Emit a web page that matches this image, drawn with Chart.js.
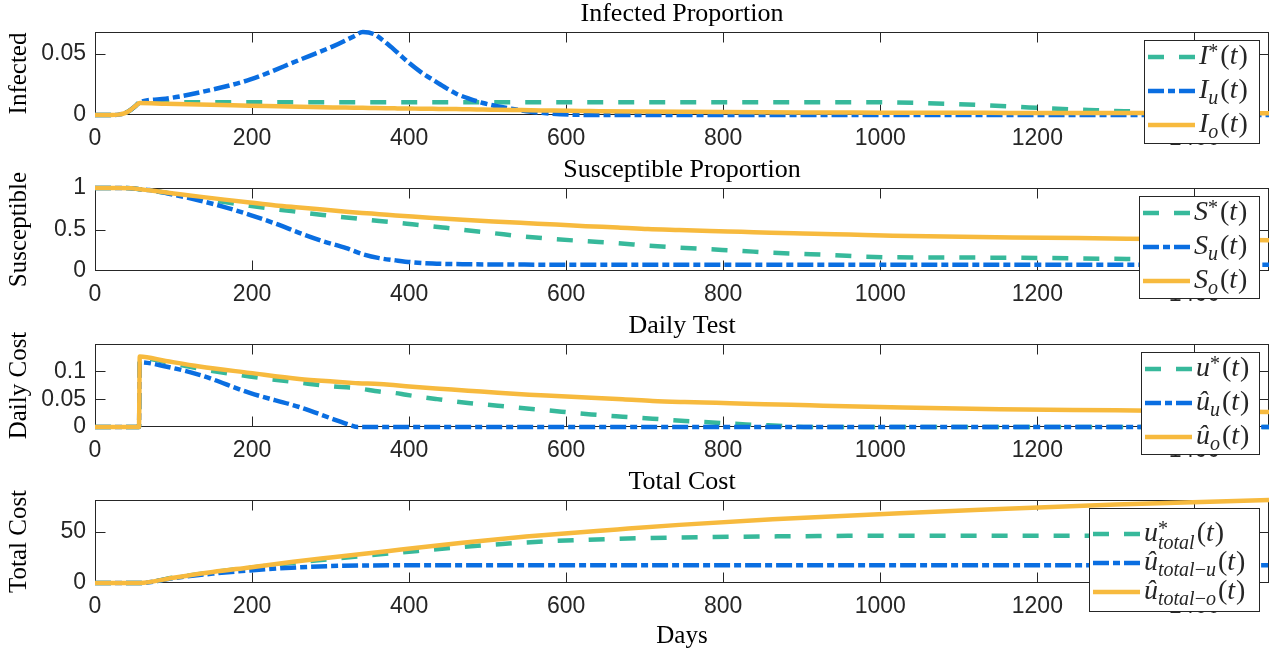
<!DOCTYPE html>
<html>
<head>
<meta charset="utf-8">
<script src="https://cdn.jsdelivr.net/npm/chart.js@4.4.1/dist/chart.umd.min.js"></script>
<style>
    body { margin: 0; background: #fff; }
    #wrap { position: relative; width: 1278px; height: 651px; }
    #wrap canvas { position: absolute; left: 0; }
</style>
</head>
<body>
<div id="wrap">
    <canvas id="infected" width="1278" height="156" style="top:0px"></canvas>
    <canvas id="susceptible" width="1278" height="156" style="top:156px"></canvas>
    <canvas id="daily" width="1278" height="156" style="top:312px"></canvas>
    <canvas id="total" width="1278" height="183" style="top:468px"></canvas>
</div>
<script>
'use strict';

// ---- data ----
var xTicks = [0, 200, 400, 600, 800, 1000, 1200, 1400];

var infDays = [0, 20, 30, 38, 45, 52, 57, 90, 133, 197, 261, 303, 330, 341, 355, 371, 385, 400, 415, 430,
    445, 460, 477, 494, 512, 532, 555, 583, 620, 642, 700, 800, 900, 1000, 1050, 1100, 1165, 1216, 1265, 1311, 1400, 1495];
var infStar = [0, 0, 0.0003, 0.0015, 0.004, 0.0076, 0.0103, 0.0103, 0.0103, 0.0103, 0.0103, 0.0103, 0.0103, 0.0103,
    0.0103, 0.0103, 0.0103, 0.0103, 0.0103, 0.0103, 0.0103, 0.0103, 0.0103, 0.0103, 0.0103, 0.0103, 0.0103, 0.0103,
    0.0103, 0.0103, 0.0103, 0.0103, 0.0103, 0.0103, 0.0098, 0.0088, 0.007, 0.0053, 0.0041, 0.0031, 0.0022, 0.0017];
var infU = [0, 0, 0.0003, 0.0015, 0.004, 0.0076, 0.0103, 0.0133, 0.0184, 0.0288, 0.0451, 0.056, 0.0643, 0.0677,
    0.066, 0.0587, 0.051, 0.0424, 0.035, 0.0288, 0.0228, 0.0174, 0.0132, 0.0098, 0.0071, 0.0049, 0.0027, 0.001,
    0.0001, 0, 0, 0, 0, 0, 0, 0, 0, 0, 0, 0, 0, 0];
var infO = [0, 0, 0.0003, 0.0015, 0.004, 0.0076, 0.0098, 0.0092, 0.0085, 0.0076, 0.0067, 0.0062, 0.006, 0.0059,
    0.0057, 0.0055, 0.0054, 0.0053, 0.0051, 0.005, 0.0049, 0.0048, 0.0046, 0.0045, 0.0043, 0.0041, 0.0039, 0.0036,
    0.0033, 0.0031, 0.0028, 0.0024, 0.0021, 0.0019, 0.0018, 0.0018, 0.0017, 0.0017, 0.0016, 0.0016, 0.0015, 0.0015];
var infTicks = [0, 0.05];

var susDays = [0, 30, 50, 57, 69, 100, 133, 165, 197, 230, 260, 290, 320, 340, 362, 383, 404, 430, 447, 468,
    507, 547, 587, 625, 666, 704, 744, 783, 823, 861, 901, 942, 980, 1016, 1169, 1314, 1400, 1495];
var susStar = [1, 1, 0.995, 0.985, 0.97, 0.93, 0.88, 0.83, 0.785, 0.745, 0.71, 0.675, 0.645, 0.625, 0.603,
    0.583, 0.562, 0.536, 0.52, 0.496, 0.456, 0.415, 0.383, 0.359, 0.335, 0.306, 0.282, 0.262, 0.242, 0.221,
    0.206, 0.19, 0.173, 0.165, 0.16, 0.145, 0.142, 0.14];
var susU = [1, 1, 0.995, 0.985, 0.975, 0.92, 0.85, 0.77, 0.677, 0.57, 0.46, 0.36, 0.275, 0.205, 0.155,
    0.128, 0.105, 0.09, 0.085, 0.082, 0.079, 0.077, 0.076, 0.0755, 0.075, 0.075, 0.075, 0.075, 0.075, 0.075,
    0.075, 0.075, 0.075, 0.075, 0.074, 0.074, 0.074, 0.074];
var susO = [1, 1, 0.995, 0.985, 0.972, 0.935, 0.896, 0.86, 0.825, 0.79, 0.765, 0.74, 0.715, 0.7, 0.685,
    0.67, 0.656, 0.64, 0.63, 0.618, 0.597, 0.578, 0.56, 0.54, 0.525, 0.505, 0.493, 0.482, 0.472, 0.462,
    0.453, 0.444, 0.433, 0.426, 0.405, 0.39, 0.38, 0.37];
var susTicks = [0, 0.5, 1];

var testDays = [0, 56, 57, 90, 133, 197, 260, 303, 324, 335, 362, 383, 396, 434, 475, 513, 553, 594, 632, 672,
    710, 751, 791, 829, 870, 910, 1028, 1152, 1300, 1495];
var testStar = [0, 0, 0.125, 0.117, 0.105, 0.091, 0.08, 0.073, 0.071, 0.0695, 0.064, 0.061, 0.058, 0.0505,
    0.0433, 0.0384, 0.033, 0.0276, 0.0227, 0.0186, 0.015, 0.0108, 0.0078, 0.0047, 0.0023, 0, 0, 0, 0, 0];
var testU = [0, 0, 0.1166, 0.109, 0.094, 0.0614, 0.036, 0.0144, 0.004, 0, 0, 0, 0, 0, 0, 0, 0, 0, 0, 0,
    0, 0, 0, 0, 0, 0, 0, 0, 0, 0];
var testO = [0, 0, 0.127, 0.119, 0.109, 0.0975, 0.0866, 0.0818, 0.0798, 0.0788, 0.0776, 0.075, 0.0735, 0.0695,
    0.0655, 0.0615, 0.058, 0.0555, 0.0525, 0.05, 0.047, 0.045, 0.0435, 0.042, 0.0405, 0.039, 0.035, 0.032, 0.03, 0.027];
var testTicks = [0, 0.05, 0.1];

var costDays = [0, 57, 100, 150, 197, 250, 300, 340, 390, 468, 549, 665, 744, 863, 1025, 1152, 1300, 1495];
var costStar = [0, 0, 5.2, 10.5, 15.0, 19.5, 23.5, 26.5, 30.0, 35.3, 39.8, 43.4, 44.7, 45.7, 46.4, 46.4, 46.4, 46.4];
var costU = [0, 0, 4.8, 9.2, 12.3, 15.0, 16.6, 17.2, 17.3, 17.3, 17.3, 17.3, 17.3, 17.3, 17.3, 17.3, 17.3, 17.3];
var costO = [0, 0, 5.2, 10.8, 15.3, 20.5, 25, 28.5, 32.8, 39.5, 45.5, 52.5, 57, 62.5, 68.5, 72.5, 77, 81.4];
var costTicks = [0, 50];

// ---- styling ----
var TEAL = '#37b99b';
var BLUE = '#0a6ee1';
var ORANGE = '#f7ba3e';
var AXIS = '#262626';
var SERIF = '"Liberation Serif", "Times New Roman", serif';
var SANS = '"Liberation Sans", Arial, sans-serif';

function pts(days, vals) {
    return days.map(function (d, i) { return {x: d, y: vals[i]}; });
}

// Matlab style box with inward tick marks on all four sides
var boxTicks = {
    id: 'boxTicks',
    beforeDatasetsDraw: function (chart) {
        var a = chart.chartArea, ctx = chart.ctx;
        var xs = chart.scales.x, ys = chart.scales.y;
        var L = Math.round(a.left) + 0.5, R = Math.round(a.right) - 0.5;
        var T = Math.round(a.top) + 0.5, B = Math.round(a.bottom) - 0.5;
        ctx.save();
        ctx.strokeStyle = AXIS;
        ctx.lineWidth = 1;
        ctx.strokeRect(L, T, R - L, B - T);
        ctx.beginPath();
        xs.ticks.forEach(function (t) {
            var px = Math.round(xs.getPixelForValue(t.value)) + 0.5;
            ctx.moveTo(px, T); ctx.lineTo(px, T + 10);
            ctx.moveTo(px, B); ctx.lineTo(px, B - 10);
        });
        ys.ticks.forEach(function (t) {
            var py = Math.min(Math.round(ys.getPixelForValue(t.value)) + 0.5, B);
            ctx.moveTo(L, py); ctx.lineTo(L + 10, py);
            ctx.moveTo(R, py); ctx.lineTo(R - 10, py);
        });
        ctx.stroke();
        ctx.restore();
    }
};

// tiny parser for labels like "u^{*}_{total}(t)"
function parseMath(src) {
    var out = [], i = 0;
    while (i < src.length) {
        var c = src[i];
        if (c === '^' || c === '_') {
            var txt;
            i++;
            if (src[i] === '{') {
                var j = src.indexOf('}', i);
                txt = src.slice(i + 1, j);
                i = j + 1;
            } else {
                txt = src[i];
                i++;
            }
            out.push({txt: txt, mode: c === '^' ? 'sup' : 'sub'});
        } else {
            out.push({txt: c, mode: 'base'});
            i++;
        }
    }
    return out;
}

function drawMath(ctx, src, x, y) {
    var toks = parseMath(src);
    var supX = 0, supEnd = 0;
    ctx.fillStyle = AXIS;
    ctx.textBaseline = 'alphabetic';
    ctx.textAlign = 'left';
    toks.forEach(function (t, k) {
        var size = t.mode === 'base' ? 28 : 20;
        var dy = 0;
        var stacked = t.mode === 'sub' && k > 0 && toks[k - 1].mode === 'sup';
        if (t.mode === 'sup') { dy = -6; supX = x; }
        if (t.mode === 'sub') { dy = stacked ? 8 : 6; }
        if (stacked) { supEnd = x; x = supX; }
        if (t.mode === 'base' && t.txt === '(' && k > 0) { x += 2; }
        for (var n = 0; n < t.txt.length; n++) {
            var c = t.txt[n];
            var italic = /[A-Za-z\u00fb]/.test(c);
            ctx.font = (italic ? 'italic ' : '') + size + 'px ' + SERIF;
            ctx.fillText(c, x, y + dy);
            x += ctx.measureText(c).width;
            if (c === 't' && t.mode === 'base') { x += 1; }
        }
        if (stacked) { x = Math.max(x, supEnd); }
    });
}

// boxed legend in the north east corner, rows drawn from the datasets
var legendBox = {
    id: 'legendBox',
    afterDraw: function (chart, args, opts) {
        var ctx = chart.ctx, a = chart.chartArea;
        var x0 = Math.round(a.right - 10 - opts.width), y0 = Math.round(a.top + 8);
        ctx.save();
        ctx.fillStyle = '#fff';
        ctx.fillRect(x0, y0, opts.width, opts.height);
        ctx.strokeStyle = AXIS;
        ctx.lineWidth = 1;
        ctx.strokeRect(x0 + 0.5, y0 + 0.5, opts.width, opts.height);
        chart.data.datasets.forEach(function (ds, i) {
            var cy = y0 + opts.rowTop + i * opts.rowGap;
            ctx.strokeStyle = ds.borderColor;
            ctx.lineWidth = ds.borderWidth;
            ctx.lineCap = 'butt';
            ctx.setLineDash(ds.borderDash || []);
            ctx.beginPath();
            ctx.moveTo(x0 + 4, cy);
            ctx.lineTo(x0 + 51, cy);
            ctx.stroke();
            ctx.setLineDash([]);
            drawMath(ctx, ds.label, x0 + 55, cy + 7);
        });
        ctx.restore();
    }
};

function makeChart(id, o) {
    var line = {
        borderWidth: 4.5, pointRadius: 0, fill: false, clip: 6,
        cubicInterpolationMode: 'monotone', borderCapStyle: 'butt',
    };
    return new Chart(document.getElementById(id), {
        type: 'line',
        data: {
            datasets: [
                Object.assign({label: o.labels[0], data: pts(o.days, o.star), borderColor: TEAL, borderDash: [16, 15], order: 3}, line),
                Object.assign({label: o.labels[1], data: pts(o.days, o.u), borderColor: BLUE, borderDash: [16, 4, 7, 4], order: 2}, line),
                Object.assign({label: o.labels[2], data: pts(o.days, o.o), borderColor: ORANGE, order: 1}, line),
            ],
        },
        options: {
            responsive: false,
            animation: false,
            devicePixelRatio: 1,
            layout: {padding: {left: 0, right: 9, top: 0, bottom: 0}},
            plugins: {
                legend: {display: false},
                tooltip: {enabled: false},
                title: {
                    display: true, text: o.title, fullSize: false, color: '#000',
                    font: {family: SERIF, size: 26, weight: 'normal', lineHeight: 1},
                    padding: {top: 1, bottom: 5},
                },
                legendBox: o.legend,
            },
            scales: {
                x: {
                    type: 'linear', min: 0, max: 1495,
                    afterBuildTicks: function (s) { s.ticks = xTicks.map(function (v) { return {value: v}; }); },
                    afterFit: function (s) { s.height = o.xHeight; },
                    grid: {display: false, drawTicks: false},
                    border: {display: false},
                    ticks: {
                        font: {family: SANS, size: 23}, color: AXIS, padding: 10, maxRotation: 0, autoSkip: false,
                        callback: function (v) { return String(v); },
                    },
                    title: {
                        display: !!o.xTitle, text: o.xTitle || '', color: '#000',
                        font: {family: SERIF, size: 25, weight: 'normal'}, padding: {top: 0, bottom: 0},
                    },
                },
                y: {
                    type: 'linear', min: 0, max: o.ymax,
                    afterBuildTicks: function (s) { s.ticks = o.yTicks.map(function (v) { return {value: v}; }); },
                    afterFit: function (s) { s.width = 95; },
                    grid: {display: false, drawTicks: false},
                    border: {display: false},
                    ticks: {
                        font: {family: SANS, size: 23}, color: AXIS, padding: 9,
                        callback: function (v) { return String(v); },
                    },
                    title: {
                        display: true, text: o.yTitle, color: '#000',
                        font: {family: SERIF, size: 25, weight: 'normal'}, padding: {top: 4, bottom: 0},
                    },
                },
            },
        },
        plugins: [boxTicks, legendBox],
    });
}

makeChart('infected', {
    title: 'Infected Proportion', yTitle: 'Infected', ymax: 0.0677, yTicks: infTicks, xHeight: 41,
    days: infDays, star: infStar, u: infU, o: infO,
    labels: ['I^{*}(t)', 'I_{u}(t)', 'I_{o}(t)'],
    legend: {width: 115, height: 103, rowTop: 17, rowGap: 34},
});
makeChart('susceptible', {
    title: 'Susceptible Proportion', yTitle: 'Susceptible', ymax: 1, yTicks: susTicks, xHeight: 41,
    days: susDays, star: susStar, u: susU, o: susO,
    labels: ['S^{*}(t)', 'S_{u}(t)', 'S_{o}(t)'],
    legend: {width: 120, height: 102, rowTop: 17, rowGap: 34},
});
makeChart('daily', {
    title: 'Daily Test', yTitle: 'Daily Cost', ymax: 0.1495, yTicks: testTicks, xHeight: 41,
    days: testDays, star: testStar, u: testU, o: testO,
    labels: ['u^{*}(t)', '\u00fb_{u}(t)', '\u00fb_{o}(t)'],
    legend: {width: 118, height: 102, rowTop: 17, rowGap: 34},
});
makeChart('total', {
    title: 'Total Cost', yTitle: 'Total Cost', ymax: 81.4, yTicks: costTicks, xHeight: 68, xTitle: 'Days',
    days: costDays, star: costStar, u: costU, o: costO,
    labels: ['u^{*}_{total}(t)', '\u00fb_{total\u2212u}(t)', '\u00fb_{total\u2212o}(t)'],
    legend: {width: 170, height: 103, rowTop: 26, rowGap: 29},
});
</script>
</body>
</html>
